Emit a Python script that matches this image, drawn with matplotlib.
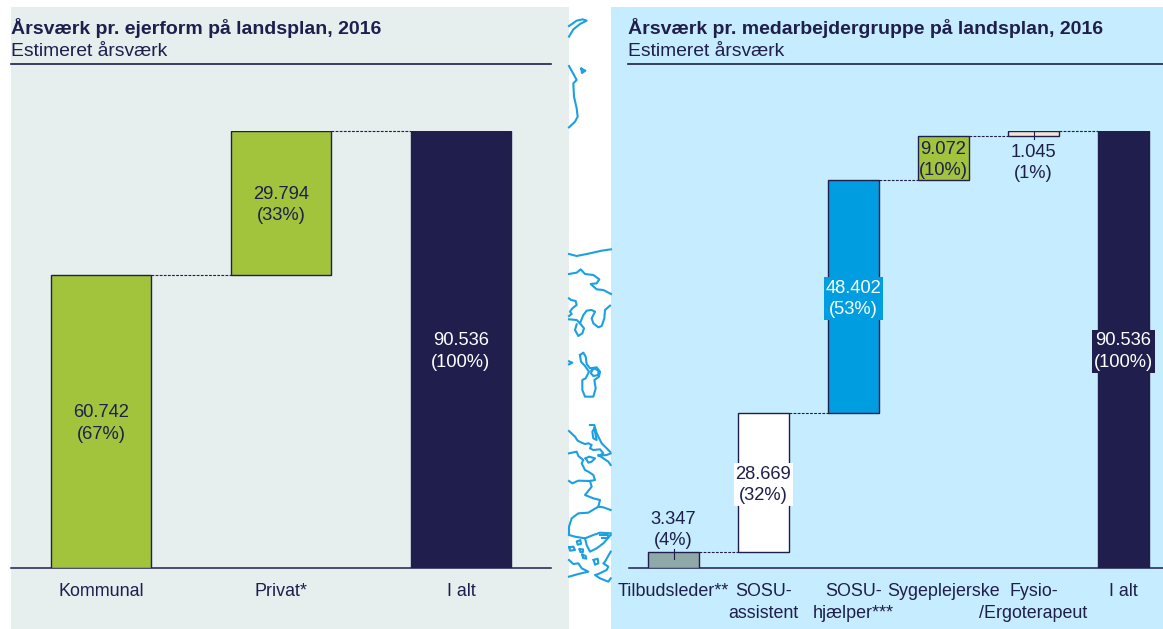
import matplotlib
matplotlib.use("Agg")
import matplotlib.pyplot as plt
from matplotlib.patches import Rectangle

plt.rcParams['font.family'] = ['Liberation Sans', 'DejaVu Sans']

W, H = 1163, 629
INK = '#1f1e4d'
GREEN = '#a2c43c'
BLUE = '#009ee0'
GREY = '#8fa9a9'
PALE = '#f5e3d3'
WHITE = '#ffffff'

left_title = 'Årsværk pr. ejerform på landsplan, 2016'
right_title = 'Årsværk pr. medarbejdergruppe på landsplan, 2016'
subtitle = 'Estimeret årsværk'

left_cats = ['Kommunal', 'Privat*', 'I alt']
left_vals = [60742, 29794]
left_pcts = [67, 33]
left_total = 90536

right_cats = ['Tilbudsleder**', 'SOSU-\nassistent', 'SOSU-\nhjælper***', 'Sygeplejerske',
              'Fysio-\n/Ergoterapeut', 'I alt']
right_vals = [3347, 28669, 48402, 9072, 1045]
right_pcts = [4, 32, 53, 10, 1]
right_total = 90536

# Decorative coastline in the gap between panels: (crop origin x, y, strokes in 3x crop units)
coast_groups = [
    (560, 0, [
        [(27,110),(40,88),(60,72),(80,62),(68,58),(50,62),(27,78)],
        [(27,198),(42,225),(50,240),(40,250),(42,290),(50,325),(53,350),(45,365),(27,382)],
        [(64,206),(76,212),(66,219),(64,206)],
        [(27,762),(50,768),(90,760),(125,752),(153,748)],
        [(27,822),(50,818),(62,808),(75,822),(100,825),(118,838),(110,850),(92,852),(110,868),(130,870),(153,882)],
    ]),
    (565, 240, [
        [(12,175),(18,180),(32,183),(35,195),(22,205),(15,215),(20,222),(12,228)],
        [(12,238),(35,240),(45,250),(55,225),(65,212),(80,210),(90,215),(80,235),(85,250),(100,262),(110,258),(118,235),(120,210),(135,197)],
        [(35,253),(30,270),(40,288),(52,280),(57,265),(45,250)],
        [(12,364),(22,368),(12,373)],
        [(45,345),(55,338),(62,350),(65,372),(75,385),(95,382),(105,395),(102,410),(88,420),(92,445),(85,470),(60,470),(52,450),(52,420),(62,415),(72,395),(60,378),(48,365),(45,345)],
        [(80,392),(88,385),(100,392),(100,405),(85,408),(78,400),(80,392)],
    ]),
    (565, 420, [
        [(75,15),(88,15),(95,40),(110,70),(135,95)],
        [(88,25),(82,35),(85,55),(95,60),(88,25)],
        [(12,33),(30,50),(38,62),(50,68),(60,72),(70,70),(80,75),(75,85),(85,90),(105,88),(115,100),(100,108),(125,105),(137,100)],
        [(12,100),(35,95),(40,108),(55,120),(50,130),(60,150),(70,155),(85,165),(90,180),(75,183),(40,182),(22,190),(12,183)],
        [(100,105),(115,115),(130,125),(137,135)],
        [(62,115),(72,110),(90,115),(80,125),(70,128),(62,115)],
        [(75,183),(80,200),(60,225),(85,235),(105,240),(100,260),(115,262),(137,270)],
        [(100,260),(70,278),(40,280),(20,295),(12,320),(12,340)],
        [(12,345),(30,350),(60,355),(85,345),(105,338),(137,340)],
        [(60,355),(65,375),(75,395),(95,385),(115,370),(137,345)],
        [(105,345),(130,345),(130,355),(110,355)],
        [(13,382),(25,380),(30,390),(15,392),(13,382)],
        [(36,365),(46,360),(48,372),(38,374),(36,365)],
        [(44,388),(54,388),(54,396),(46,396),(44,388)],
        [(52,404),(62,408),(64,416),(54,414),(52,404)],
        [(86,420),(98,416),(100,430),(90,434),(86,420)],
        [(12,420),(25,432),(40,430),(50,445),(70,455),(40,462),(12,470)],
        [(137,395),(120,425),(115,430),(130,440),(125,450),(100,462),(90,465),(105,475),(130,485),(137,475)],
    ]),
]

fig = plt.figure(figsize=(W / 100, H / 100), dpi=100, facecolor='white')

bg = fig.add_axes([0, 0, 1, 1], zorder=0)
bg.set_xlim(0, W)
bg.set_ylim(H, 0)
bg.axis('off')
bg.add_patch(Rectangle((11, 7), 558, 622, fc='#e7eeee', ec='none'))
bg.add_patch(Rectangle((611, 7), 552, 622, fc='#c6edff', ec='none'))
for ox, oy, strokes in coast_groups:
    for s in strokes:
        bg.plot([ox + x / 3 for x, _ in s], [oy + y / 3 for _, y in s],
                color='#1ba0e2', lw=1.5, solid_joinstyle='round')

for x0, x1, title in [(11, 551, left_title), (628, 1163, right_title)]:
    bg.text(x0, 28, title, fontsize=14.0, fontweight='bold', color=INK, va='center', ha='left')
    bg.text(x0, 52, subtitle, fontsize=13.9, color=INK, va='center', ha='left')
    bg.plot([x0, x1], [64, 64], color=INK, lw=1.2)


def dk(v):
    return f'{v:,}'.replace(',', '.')


def waterfall(px0, px1, cats, vals, pcts, total, colors, label_bg, width, outside):
    n = len(cats)
    ax = fig.add_axes([px0 / W, 1 - 568 / H, (px1 - px0) / W, (568 - 131) / H], zorder=2)
    ax.patch.set_alpha(0)
    ax.set_xlim(-0.5, n - 0.5)
    ax.set_ylim(0, total)
    for sp in ('top', 'left', 'right'):
        ax.spines[sp].set_visible(False)
    ax.spines['bottom'].set_color(INK)
    ax.spines['bottom'].set_linewidth(1.1)
    ax.set_yticks([])
    ax.set_xticks(range(n))
    ax.set_xticklabels(cats, fontsize=12.9, color=INK, linespacing=1.33, va='top')
    ax.tick_params(axis='x', length=0, pad=11)

    bottom = 0
    tops = []
    for i, v in enumerate(vals):
        ax.bar(i, v, width, bottom=bottom, color=colors[i], edgecolor=INK, lw=1, zorder=3)
        bottom += v
        tops.append(bottom)
    ax.bar(n - 1, total, width, color=colors[-1], edgecolor=INK, lw=1, zorder=3)

    for i, t in enumerate(tops):
        ax.plot([i + width / 2, i + 1 - width / 2], [t, t], color=INK, lw=0.8,
                ls=(0, (2.5, 1.2)), zorder=2, clip_on=False)

    base = 0
    entries = list(zip(vals, pcts)) + [(total, 100)]
    px = total / (568 - 131)
    for i, (v, p) in enumerate(entries):
        y0 = 0 if i == n - 1 else base
        mid = y0 + v / 2
        txt = f'{dk(v)}\n({p}%)'
        fg = WHITE if label_bg[i] in (BLUE, colors[-1]) else INK
        kw = dict(ha='center', fontsize=13.2, linespacing=1.33, color=fg, zorder=5, clip_on=False)
        if i in outside:
            off, va, lead0, lead1 = outside[i]
            ax.plot([i, i], [y0 + lead0 * px, y0 + lead1 * px], color=INK, lw=0.8, zorder=4, clip_on=False)
            ax.text(i, y0 + off * px, txt, va=va, **kw)
        else:
            bbox = dict(fc=label_bg[i], ec='none', pad=1.5) if label_bg[i] is not None else None
            ax.text(i, mid - 2 * px, txt, va='center', bbox=bbox, **kw)
        if i < n - 1:
            base += v
    return ax


waterfall(11, 551, left_cats, left_vals, left_pcts, left_total,
          [GREEN, GREEN, INK], [None, None, INK], 100 / 180, {})
waterfall(628.5, 1168.5, right_cats, right_vals, right_pcts, right_total,
          [GREY, WHITE, BLUE, GREEN, PALE, INK], [None, WHITE, BLUE, None, None, INK], 51 / 90,
          {0: (19, 'bottom', 9, 19), 4: (-7.5, 'top', -3, 5)})

fig.savefig('out.png', dpi=100)
